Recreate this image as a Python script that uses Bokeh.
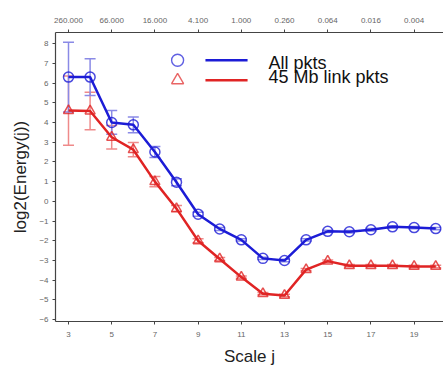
from bokeh.plotting import figure
from bokeh.models import (ColumnDataSource, LinearAxis, FixedTicker, Range1d,
                          Whisker, TeeHead)
from bokeh.core.properties import value
from bokeh.embed import file_html
from bokeh.resources import INLINE

# Wavelet scales and the log2 energy at each scale
scales = [3, 4, 5, 6, 7, 8, 9, 10, 11, 12, 13, 14, 15, 16, 17, 18, 19, 20]
all_pkts = [6.3, 6.3, 4.0, 3.88, 2.5, 0.97, -0.65, -1.4, -1.95, -2.89, -3.0,
            -1.95, -1.52, -1.54, -1.44, -1.29, -1.33, -1.38]
all_err = [1.77, 0.93, 0.6, 0.4, 0.28, 0.18, 0.1, 0.08, 0.06, 0.06, 0.06,
           0.06, 0.06, 0.06, 0.06, 0.06, 0.06, 0.06]
link_pkts = [4.6, 4.58, 3.25, 2.62, 1.0, -0.37, -2.0, -2.92, -3.84, -4.68,
             -4.77, -3.46, -3.03, -3.26, -3.26, -3.26, -3.3, -3.3]
link_err = [1.75, 0.95, 0.6, 0.36, 0.26, 0.16, 0.1, 0.08, 0.06, 0.06, 0.06,
            0.06, 0.06, 0.06, 0.06, 0.06, 0.06, 0.06]

# Tick positions and the time-scale labels of the upper axis
x_ticks = [3, 5, 7, 9, 11, 13, 15, 17, 19]
time_labels = ["260.000", "66.000", "16.000", "4.100", "1.000", "0.260",
               "0.064", "0.016", "0.004"]
y_ticks = list(range(-6, 9))

BLUE = "#1c1cd6"
RED = "#e02424"
BLUE_ERR = "#8a8ae6"
RED_ERR = "#ef8a8a"
FONT = "Liberation Sans"

p = figure(width=443, height=368, output_backend="svg", toolbar_location=None,
           x_range=Range1d(2.398, 20.36), y_range=Range1d(-6.09, 8.56),
           min_border_left=55, min_border_right=0, min_border_top=32,
           min_border_bottom=45)
p.outline_line_color = None
p.grid.visible = False
p.background_fill_color = "white"
p.border_fill_color = "white"


def style_axis(ax):
    ax.axis_line_color = "#444444"
    ax.axis_line_width = 1.2
    ax.major_tick_line_color = "#444444"
    ax.major_tick_out = 3
    ax.major_tick_in = 0
    ax.minor_tick_line_color = None
    ax.major_label_text_font = FONT
    ax.major_label_text_font_size = "8px"
    ax.major_label_text_color = "#666666"
    ax.axis_label_text_font = FONT
    ax.axis_label_text_font_size = "17px"
    ax.axis_label_text_font_style = "normal"
    ax.axis_label_text_color = "#222222"


xa = p.xaxis[0]
xa.ticker = FixedTicker(ticks=x_ticks)
xa.axis_label = "Scale j"
style_axis(xa)
xa.major_label_standoff = 7
xa.axis_label_standoff = 7

ya = p.yaxis[0]
ya.ticker = FixedTicker(ticks=y_ticks)
ya.axis_label = "log2(Energy(j))"
style_axis(ya)
ya.major_label_standoff = 4
ya.axis_label_standoff = 6

top = LinearAxis(ticker=FixedTicker(ticks=x_ticks),
                 major_label_overrides={t: s for t, s in zip(x_ticks, time_labels)})
style_axis(top)
top.major_label_standoff = 7
p.add_layout(top, "above")

src_all = ColumnDataSource(dict(
    x=scales, y=all_pkts,
    lo=[v - e for v, e in zip(all_pkts, all_err)],
    hi=[v + e for v, e in zip(all_pkts, all_err)]))
src_link = ColumnDataSource(dict(
    x=scales, y=link_pkts,
    lo=[v - e for v, e in zip(link_pkts, link_err)],
    hi=[v + e for v, e in zip(link_pkts, link_err)]))

# Error bars
for src, col in ((src_link, RED_ERR), (src_all, BLUE_ERR)):
    w = Whisker(source=src, base="x", lower="lo", upper="hi",
                line_color=col, line_width=1.5,
                upper_head=TeeHead(size=11, line_color=col, line_width=1.5),
                lower_head=TeeHead(size=11, line_color=col, line_width=1.5))
    p.add_layout(w)

# Series lines with hollow markers
p.line("x", "y", source=src_link, line_color=RED, line_width=2.5)
p.scatter("x", "y", source=src_link, marker="triangle", size=10,
          fill_color=None, line_color=RED, line_width=1.5, line_alpha=0.8)
p.line("x", "y", source=src_all, line_color=BLUE, line_width=2.5)
p.scatter("x", "y", source=src_all, marker="circle", size=10,
          fill_color=None, line_color=BLUE, line_width=1.5, line_alpha=0.8)

# Hand-built legend: marker, line sample and text for each series
leg_marker_x = 8.05
leg_line_x = [9.34, 11.29]
leg_text_x = 12.26
leg_rows = [(7.15, 7.0, "All pkts", BLUE, "circle"),
            (6.14, 6.3, "45 Mb link pkts", RED, "triangle")]
for y_mark, y_text, label, col, mk in leg_rows:
    p.scatter([leg_marker_x], [y_mark], marker=mk, size=12, fill_color=None,
              line_color=col, line_width=1.4, line_alpha=0.7)
    p.line(leg_line_x, [y_mark, y_mark], line_color=col, line_width=2.5)
    p.text([leg_text_x], [y_text], text=[label], text_font=value(FONT),
           text_font_size="18px", text_color="#111111",
           text_baseline="alphabetic", text_align="left")

open("out.html", "w").write(file_html(p, INLINE))
